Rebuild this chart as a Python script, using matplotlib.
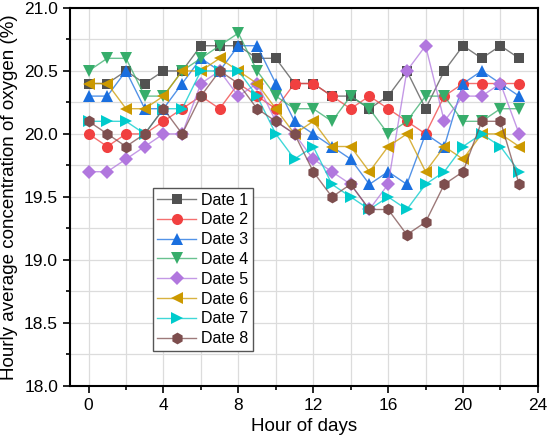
import numpy as np
import matplotlib.pyplot as plt
from matplotlib.ticker import MultipleLocator

plt.rcParams['font.family'] = ['Liberation Sans', 'DejaVu Sans']

hours = np.arange(24)

date1 = [20.4, 20.4, 20.5, 20.4, 20.5, 20.5, 20.7, 20.7, 20.7, 20.6, 20.6, 20.4,
         20.4, 20.3, 20.3, 20.2, 20.3, 20.5, 20.2, 20.5, 20.7, 20.6, 20.7, 20.6]
date2 = [20.0, 19.9, 20.0, 20.0, 20.1, 20.2, 20.3, 20.2, 20.4, 20.3, 20.2, 20.4,
         20.4, 20.3, 20.2, 20.3, 20.2, 20.1, 20.0, 20.3, 20.4, 20.4, 20.4, 20.4]
date3 = [20.3, 20.3, 20.5, 20.2, 20.2, 20.4, 20.6, 20.5, 20.7, 20.7, 20.4, 20.1,
         20.0, 19.9, 19.8, 19.6, 19.7, 19.6, 20.0, 19.9, 20.4, 20.5, 20.4, 20.3]
date4 = [20.5, 20.6, 20.6, 20.3, 20.3, 20.5, 20.6, 20.7, 20.8, 20.5, 20.3, 20.2,
         20.2, 20.1, 20.3, 20.2, 20.0, 20.1, 20.3, 20.3, 20.1, 20.1, 20.2, 20.2]
date5 = [19.7, 19.7, 19.8, 19.9, 20.0, 20.0, 20.4, 20.5, 20.3, 20.4, 20.1, 20.0,
         19.8, 19.7, 19.6, 19.4, 19.6, 20.5, 20.7, 20.1, 20.3, 20.3, 20.4, 20.0]
date6 = [20.4, 20.4, 20.2, 20.2, 20.3, 20.5, 20.5, 20.6, 20.5, 20.4, 20.2, 20.0,
         20.1, 19.9, 19.9, 19.7, 19.9, 20.0, 19.7, 19.9, 19.8, 20.0, 20.0, 19.9]
date7 = [20.1, 20.1, 20.1, 20.0, 20.2, 20.2, 20.5, 20.5, 20.5, 20.3, 20.0, 19.8,
         19.9, 19.6, 19.5, 19.4, 19.5, 19.4, 19.6, 19.7, 19.9, 20.0, 19.9, 19.7]
date8 = [20.1, 20.0, 19.9, 20.0, 20.2, 20.0, 20.3, 20.5, 20.4, 20.2, 20.1, 20.0,
         19.7, 19.5, 19.6, 19.4, 19.4, 19.2, 19.3, 19.6, 19.7, 20.1, 20.1, 19.6]

series = [date1, date2, date3, date4, date5, date6, date7, date8]
labels = ['Date 1', 'Date 2', 'Date 3', 'Date 4', 'Date 5', 'Date 6', 'Date 7', 'Date 8']
colors = ['#515151', '#F14040', '#1A6FDF', '#37AD6B', '#B177DE', '#CC9900', '#00CBCC', '#7D4E4E']
markers = ['s', 'o', '^', 'v', 'D', '<', '>', 'h']
sizes = [7, 8, 9, 9, 7, 9, 9, 8.5]

fig = plt.figure(figsize=(5.5, 4.4), dpi=100)
ax = fig.add_axes([0.127, 0.123, 0.851, 0.859])

handles = []
for y, c, m, s in zip(series, colors, markers, sizes):
    ln, = ax.plot(hours, y, color=c, lw=1, alpha=0.75)
    mk, = ax.plot(hours, y, ls='none', color=c, marker=m, markersize=s,
                  markeredgewidth=0)
    handles.append((ln, mk))

ax.set_xlim(-1, 24)
ax.set_ylim(18.0, 21.0)
ax.xaxis.set_major_locator(MultipleLocator(4))
ax.xaxis.set_minor_locator(MultipleLocator(2))
ax.yaxis.set_major_locator(MultipleLocator(0.5))
ax.yaxis.set_minor_locator(MultipleLocator(0.25))
ax.yaxis.set_major_formatter(plt.FormatStrFormatter('%.1f'))
ax.grid(True, which='both', color='#dcdcdc', lw=0.9)
ax.set_axisbelow(True)
ax.tick_params(which='both', direction='out', labelsize=12.5, width=1.2)
ax.tick_params(which='major', length=5)
ax.tick_params(which='minor', length=3)
for sp in ax.spines.values():
    sp.set_linewidth(1.5)

ax.set_xlabel('Hour of days', fontsize=13.5)
ax.set_ylabel('Hourly average concentration of oxygen (%)', fontsize=13.5)

ax.legend(handles, labels, loc='upper left', bbox_to_anchor=(0.177, 0.524),
          fontsize=11.5, fancybox=False, edgecolor='#555555', framealpha=1,
          handlelength=2.4, borderpad=0.3, labelspacing=0.3, handletextpad=0.3,
          borderaxespad=0)

fig.savefig('out.png', dpi=100)
